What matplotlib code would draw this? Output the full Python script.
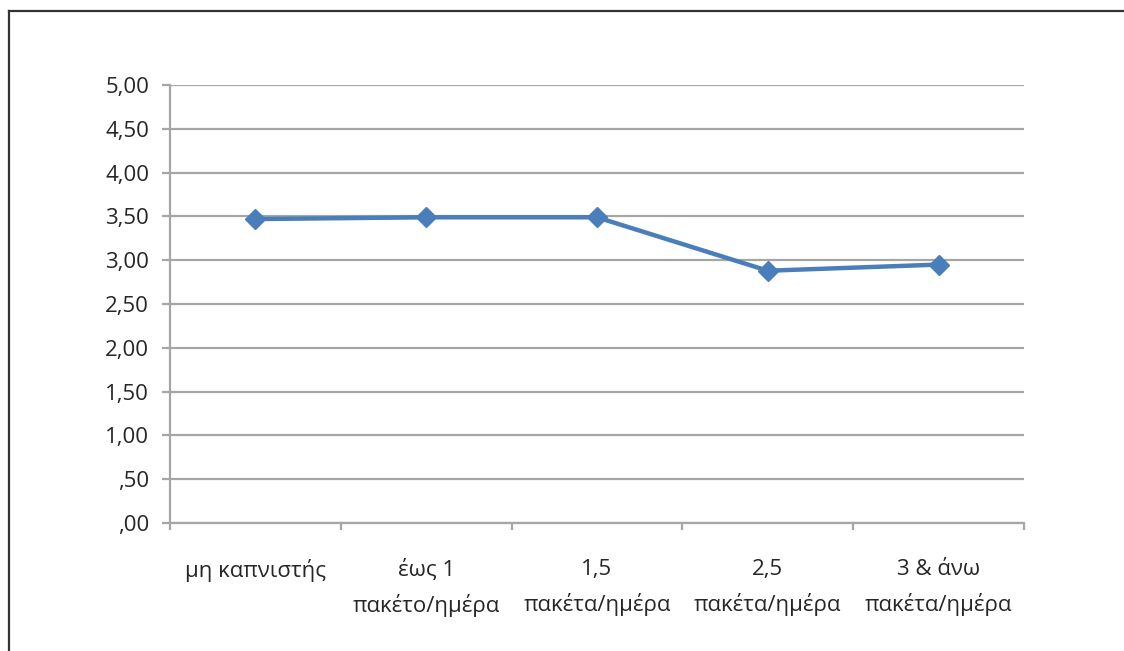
import matplotlib

matplotlib.use("Agg")
from matplotlib import pyplot as plt
from matplotlib.lines import Line2D
from matplotlib.ticker import FixedLocator, FuncFormatter

categories = [
    "μη καπνιστής",
    "έως 1\nπακέτο/ημέρα",
    "1,5\nπακέτα/ημέρα",
    "2,5\nπακέτα/ημέρα",
    "3 & άνω\nπακέτα/ημέρα",
]
means = [3.47, 3.49, 3.49, 2.88, 2.95]
y_ticks = [0.0, 0.5, 1.0, 1.5, 2.0, 2.5, 3.0, 3.5, 4.0, 4.5, 5.0]

BLUE = "#4a7ebb"
GRID = "#a6a6a6"
TEXT = "#262626"

plt.rcParams["font.family"] = ["Open Sans", "DejaVu Sans"]


def comma_fmt(value, _pos):
    # 0.5 -> ",50", 3.5 -> "3,50"
    text = f"{value:.2f}".replace(".", ",")
    return text[1:] if text.startswith("0") else text


fig = plt.figure(figsize=(11.24, 6.51), dpi=100)
ax = fig.add_axes([0.1512, 0.1966, 0.7598, 0.6728])

x = list(range(len(categories)))
ax.plot(x, means, color=BLUE, linewidth=3.2, marker="D", markersize=10,
        markeredgecolor=BLUE, markerfacecolor=BLUE, zorder=3)

ax.set_xlim(-0.5, len(categories) - 0.5)
ax.set_ylim(0, 5)
ax.yaxis.set_major_locator(FixedLocator(y_ticks))
ax.yaxis.set_major_formatter(FuncFormatter(comma_fmt))
ax.set_xticks(x, categories)
ax.xaxis.set_minor_locator(FixedLocator([i - 0.5 for i in range(len(categories) + 1)]))

ax.grid(True, axis="y", color=GRID, linewidth=1.6, zorder=0)
for name in ("top", "right"):
    ax.spines[name].set_visible(False)
for name in ("left", "bottom"):
    ax.spines[name].set_color(GRID)
    ax.spines[name].set_linewidth(1.6)

ax.tick_params(axis="y", length=6, width=1.6, color=GRID, pad=9,
               labelsize=16, labelcolor=TEXT)
ax.tick_params(axis="x", which="major", length=0, pad=26,
               labelsize=16, labelcolor=TEXT)
ax.tick_params(axis="x", which="minor", length=5, width=1.6, color=GRID)
for label in ax.get_xticklabels():
    label.set_linespacing(1.7)

# frame lines along the left and top edges of the figure
fig.add_artist(Line2D([8.5 / 1124, 8.5 / 1124], [0, 1 - 11 / 651],
                      color="#333333", linewidth=1.6, transform=fig.transFigure))
fig.add_artist(Line2D([8.5 / 1124, 1], [1 - 11 / 651, 1 - 11 / 651],
                      color="#333333", linewidth=1.6, transform=fig.transFigure))

fig.savefig("out.png", dpi=100)
plt.close(fig)
